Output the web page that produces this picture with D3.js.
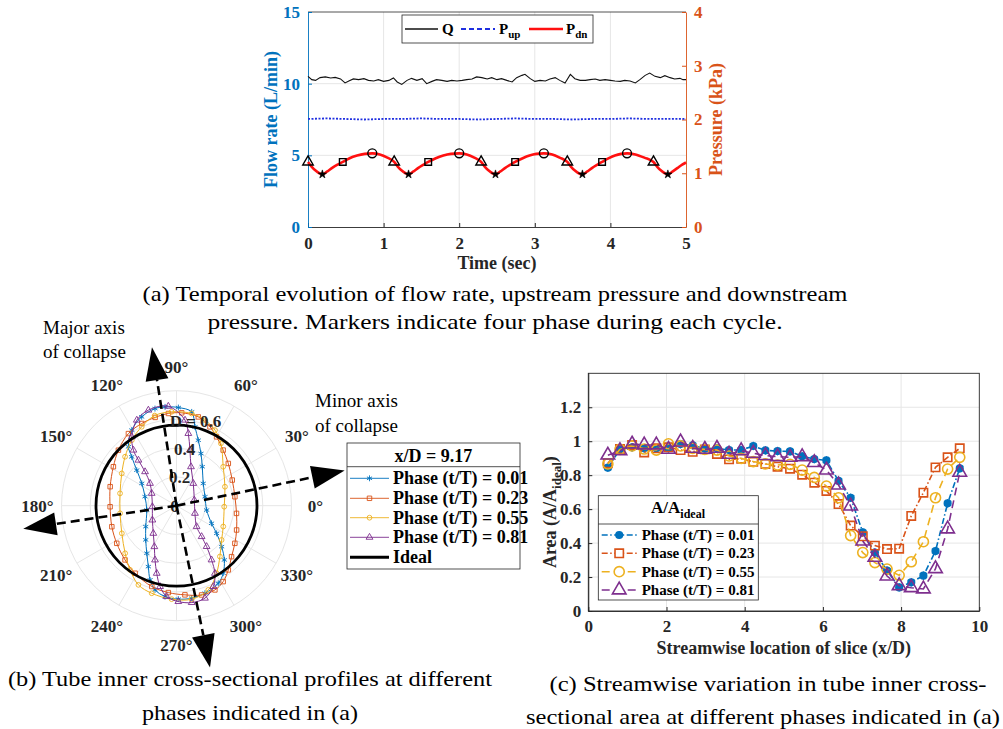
<!DOCTYPE html>
<html>
<head>
<meta charset="utf-8">
<script src="https://cdn.jsdelivr.net/npm/d3@7"></script>
<style>
  body { margin: 0; background: #fff; }
  svg { display: block; }
  svg text { font-family: "Liberation Serif", "Times New Roman", Times, serif !important; }
</style>
</head>
<body>
<svg id="fig" width="1003" height="729"></svg>
<script>
// ---------- (a) time series ----------
const timeTicks = [0, 1, 2, 3, 4, 5];
const flowTicks = [0, 5, 10, 15];
const pressTicks = [0, 1, 2, 3, 4];

const qTime = [0.00,0.05,0.10,0.16,0.23,0.30,0.36,0.43,0.49,0.54,0.60,0.67,0.74,0.80,0.87,0.93,1.00,1.07,1.13,1.18,1.24,1.31,1.37,1.44,1.51,1.57,1.64,1.70,1.77,1.84,1.90,1.97,2.04,2.10,2.17,2.23,2.30,2.37,2.43,2.50,2.56,2.63,2.70,2.76,2.83,2.87,2.94,3.00,3.07,3.14,3.20,3.27,3.33,3.40,3.47,3.53,3.60,3.67,3.73,3.80,3.86,3.93,4.00,4.06,4.13,4.19,4.26,4.33,4.39,4.46,4.52,4.59,4.66,4.72,4.79,4.85,4.92,4.96,5.00];
const qFlow = [10.51,10.28,10.23,10.42,10.47,10.40,10.44,10.33,10.05,10.19,10.33,10.28,10.35,10.23,10.19,10.28,10.16,10.23,10.40,10.12,9.95,10.23,10.37,10.23,10.35,10.00,10.16,10.28,10.23,10.16,10.23,10.19,10.23,10.28,10.33,10.47,10.42,10.33,10.42,10.28,10.35,10.23,10.12,10.42,10.58,10.65,10.35,10.16,10.23,10.19,10.33,10.42,10.23,10.05,10.65,10.35,10.23,10.23,10.28,10.33,10.23,10.28,10.23,10.19,10.16,10.23,10.19,10.05,10.28,10.58,10.74,10.51,10.42,10.56,10.42,10.33,10.37,10.28,10.28];

const upTime = [0,0.25,0.5,0.75,1,1.25,1.5,1.75,2,2.25,2.5,2.75,3,3.25,3.5,3.75,4,4.25,4.5,4.75,5];
const upPress = [2.01,2.02,2.01,2.0,2.01,2.01,2.02,2.01,2.01,2.0,2.01,2.02,2.01,2.01,2.0,2.01,2.01,2.02,2.01,2.01,2.01];

const dnTime = [0.00,0.05,0.10,0.15,0.19,0.25,0.32,0.39,0.46,0.55,0.65,0.75,0.85,0.95,1.05,
  1.14,1.19,1.24,1.29,1.33,1.39,1.46,1.53,1.59,1.69,1.79,1.89,2.00,2.10,2.20,
  2.29,2.34,2.39,2.44,2.48,2.54,2.61,2.68,2.74,2.84,2.93,3.02,3.12,3.23,3.33,
  3.43,3.48,3.53,3.58,3.63,3.69,3.76,3.83,3.89,3.98,4.06,4.14,4.22,4.33,4.45,
  4.57,4.62,4.67,4.72,4.76,4.82,4.89,4.95,5.00];
const dnPress = [1.21,1.12,1.05,1.00,0.98,1.03,1.10,1.16,1.21,1.28,1.33,1.36,1.37,1.35,1.29,
  1.21,1.12,1.05,1.00,0.98,1.03,1.10,1.16,1.21,1.28,1.33,1.36,1.37,1.35,1.29,
  1.21,1.12,1.05,1.00,0.98,1.03,1.10,1.16,1.21,1.28,1.33,1.36,1.37,1.35,1.29,
  1.21,1.12,1.05,1.00,0.98,1.03,1.10,1.16,1.21,1.28,1.33,1.36,1.37,1.35,1.29,
  1.21,1.12,1.05,1.00,0.98,1.03,1.10,1.16,1.20];

const phaseTriangle = [0, 1.14, 2.29, 3.43, 4.57];
const phaseStar = [0.19, 1.33, 2.48, 3.63, 4.76];
const phaseSquare = [0.46, 1.59, 2.74, 3.89];
const phaseCircle = [0.85, 2.00, 3.12, 4.22];
const phaseTriangleP = 1.21, phaseStarP = 0.98, phaseSquareP = 1.21, phaseCircleP = 1.37;

// ---------- (b) polar profiles, [angle deg, radius] ----------
const ringTicks = [0.2, 0.4, 0.6, 0.8];
const ringLabels = ["0", "0.2", "0.4", "D = 0.6"];
const angleTicks = [0, 30, 60, 90, 120, 150, 180, 210, 240, 270, 300, 330];
const idealRadius = 0.56;

const profBlue = [[17.5,0.208],[39.8,0.242],[56.5,0.325],[64.9,0.401],[71.6,0.48],[76.8,0.563],[80.8,0.661],[88.9,0.683],[96.6,0.692],[102.5,0.692],[111.4,0.664],[120.6,0.611],[129.2,0.529],[132.5,0.461],[138.2,0.371],[147.3,0.287],[164,0.228],[188.3,0.209],[214.3,0.259],[228,0.32],[238,0.39],[245.2,0.467],[250.4,0.548],[255.7,0.604],[262.8,0.637],[271.1,0.65],[279.3,0.652],[288,0.64],[298.3,0.613],[304.7,0.571],[311.4,0.503],[317.8,0.424],[325.4,0.339],[333.3,0.273],[351.8,0.212]];
const profOrange = [[8.7,0.411],[24.7,0.427],[39.2,0.465],[50,0.505],[59.8,0.554],[67,0.596],[76.2,0.636],[86.8,0.647],[95,0.644],[103.6,0.632],[112.9,0.621],[123.7,0.603],[136.3,0.559],[148.3,0.516],[164,0.48],[180.9,0.462],[198,0.473],[212.2,0.491],[226.5,0.52],[238.5,0.551],[253,0.588],[264.6,0.607],[275.4,0.623],[285.7,0.645],[294.5,0.644],[301.6,0.62],[308.9,0.574],[317.2,0.522],[327.2,0.483],[338,0.451],[352.7,0.421]];
const profYellow = [[21.4,0.362],[39.8,0.423],[54.5,0.532],[63,0.59],[71.6,0.627],[80.7,0.65],[93,0.654],[103.6,0.645],[113.8,0.6],[124.3,0.552],[136.4,0.494],[149.5,0.442],[167.7,0.402],[187.7,0.396],[206.8,0.426],[222.8,0.487],[234.1,0.551],[244.3,0.611],[254.2,0.633],[267,0.651],[279.2,0.659],[290.7,0.626],[300.7,0.546],[310.5,0.465],[322.8,0.394],[336,0.356],[358.8,0.332]];
const profPurple = [[17.6,0.13],[53,0.194],[69.6,0.289],[76.4,0.398],[80.7,0.509],[84.3,0.598],[94.7,0.694],[106.4,0.693],[114.9,0.656],[123,0.571],[127.8,0.489],[129.9,0.413],[132.8,0.322],[139.9,0.241],[153.6,0.193],[182.4,0.168],[210.7,0.195],[230,0.251],[241.6,0.324],[248.4,0.406],[253.7,0.49],[258.5,0.574],[263.8,0.636],[271.1,0.667],[278.9,0.682],[287.1,0.673],[294.5,0.618],[299.6,0.541],[302.9,0.449],[306.4,0.353],[309.1,0.277],[313.8,0.202],[337.5,0.139]];

// collapse axes arrows: [angle deg, tip radius]
const collapseArrows = [[98.8, 1.115], [281.7, 1.15], [188.6, 1.078], [11.8, 1.195]];
const phaseNames = ["Phase (t/T) = 0.01", "Phase (t/T) = 0.23", "Phase (t/T) = 0.55", "Phase (t/T) = 0.81"];

// ---------- (c) area along the tube ----------
const xTicksC = [0, 2, 4, 6, 8, 10];
const yTicksC = [0, 0.2, 0.4, 0.6, 0.8, 1, 1.2];
const sliceX = [0.5,0.81,1.12,1.43,1.74,2.05,2.36,2.67,2.98,3.29,3.6,3.91,4.22,4.53,4.84,5.16,5.47,5.78,6.09,6.4,6.71,7.02,7.33,7.64,7.95,8.26,8.57,8.88,9.19,9.5];
const areaBlue = [0.844,0.952,0.964,0.958,0.958,0.958,0.983,0.976,0.956,0.958,0.948,0.948,0.972,0.946,0.942,0.94,0.911,0.895,0.887,0.766,0.667,0.463,0.344,0.238,0.139,0.169,0.208,0.353,0.634,0.84];
const areaOrange = [0.87,0.954,0.978,0.934,0.958,0.964,0.948,0.938,0.952,0.925,0.893,0.897,0.879,0.866,0.85,0.838,0.803,0.756,0.707,0.63,0.503,0.44,0.385,0.365,0.367,0.56,0.697,0.846,0.905,0.958];
const areaYellow = [0.866,0.952,0.972,0.954,0.948,0.985,0.972,0.958,0.952,0.948,0.913,0.899,0.88,0.866,0.86,0.864,0.83,0.787,0.736,0.667,0.444,0.344,0.285,0.247,0.21,0.29,0.408,0.667,0.836,0.905];
const areaPurple = [0.918,0.944,0.983,0.978,0.978,0.952,0.995,0.958,0.952,0.958,0.923,0.944,0.929,0.915,0.909,0.905,0.909,0.874,0.83,0.742,0.618,0.412,0.316,0.206,0.149,0.137,0.13,0.249,0.483,0.817];

// ---------- drawing ----------
const serif = '"Liberation Serif", "Times New Roman", Times, serif';
const ink = "#262626";
const grid = "#e6e6e6";
const cBlue = "#0072BD", cOrange = "#D95319", cYellow = "#EDB120", cPurple = "#7E2F8E";

const svg = d3.select("#fig").attr("font-family", serif);

function styleAxis(g, col) {
  g.attr("font-size", 17).attr("font-family", serif).attr("font-weight", "bold").style("color", col);
  g.select(".domain").attr("stroke-width", 0.9);
}

// ===== (a) =====
const A = { left: 308, right: 686, top: 12, bottom: 227 };
const xA = d3.scaleLinear().domain([0, 5]).range([A.left, A.right]);
const yQ = d3.scaleLinear().domain([0, 15]).range([A.bottom, A.top]);
const yP = d3.scaleLinear().domain([0, 4]).range([A.bottom, A.top]);
const gA = svg.append("g");

gA.selectAll(".vg").data(timeTicks.slice(1, -1)).join("line")
  .attr("x1", d => xA(d)).attr("x2", d => xA(d)).attr("y1", A.bottom).attr("y2", A.top)
  .attr("stroke", grid);
gA.selectAll(".hg").data(flowTicks.slice(1, -1)).join("line")
  .attr("x1", A.left).attr("x2", A.right).attr("y1", d => yQ(d)).attr("y2", d => yQ(d))
  .attr("stroke", grid);
gA.append("line").attr("x1", A.left).attr("x2", A.right).attr("y1", A.top).attr("y2", A.top)
  .attr("stroke", ink).attr("stroke-width", 0.8);

const axAB = gA.append("g").attr("transform", `translate(0,${A.bottom})`)
  .call(d3.axisBottom(xA).tickValues(timeTicks).tickSize(-4).tickSizeOuter(0).tickPadding(10).tickFormat(d3.format("d")));
styleAxis(axAB, ink);
const axAL = gA.append("g").attr("transform", `translate(${A.left},0)`)
  .call(d3.axisLeft(yQ).tickValues(flowTicks).tickSize(-4).tickSizeOuter(0).tickPadding(8).tickFormat(d3.format("d")));
styleAxis(axAL, cBlue);
const axAR = gA.append("g").attr("transform", `translate(${A.right},0)`)
  .call(d3.axisRight(yP).tickValues(pressTicks).tickSize(-4).tickSizeOuter(0).tickPadding(8).tickFormat(d3.format("d")));
styleAxis(axAR, cOrange);

const qData = qTime.map((t, i) => [t, qFlow[i]]);
gA.append("path").datum(qData)
  .attr("d", d3.line().x(d => xA(d[0])).y(d => yQ(d[1])))
  .attr("fill", "none").attr("stroke", "#111").attr("stroke-width", 1.1);

const upData = upTime.map((t, i) => [t, upPress[i]]);
gA.append("path").datum(upData)
  .attr("d", d3.line().x(d => xA(d[0])).y(d => yP(d[1])))
  .attr("fill", "none").attr("stroke", "#1f2fe0").attr("stroke-width", 1.8).attr("stroke-dasharray", "2,1.5");

const dnData = dnTime.map((t, i) => [t, dnPress[i]]);
gA.append("path").datum(dnData)
  .attr("d", d3.line().x(d => xA(d[0])).y(d => yP(d[1])).curve(d3.curveMonotoneX))
  .attr("fill", "none").attr("stroke", "#ff1010").attr("stroke-width", 2.6);

function phaseMarks(times, p, type, size, filled) {
  gA.append("g").selectAll("path").data(times).join("path")
    .attr("transform", t => `translate(${xA(t)},${yP(p)})`)
    .attr("d", d3.symbol(type, size))
    .attr("fill", filled ? "#000" : "none").attr("stroke", "#000").attr("stroke-width", filled ? 0.6 : 1.4);
}
phaseMarks(phaseTriangle, phaseTriangleP, d3.symbolTriangle, 48, false);
phaseMarks(phaseStar, phaseStarP, d3.symbolStar, 22, true);
phaseMarks(phaseSquare, phaseSquareP, d3.symbolSquare, 44, false);
phaseMarks(phaseCircle, phaseCircleP, d3.symbolCircle, 62, false);

// legend (a)
const lgA = gA.append("g").attr("font-weight", "bold").attr("font-size", 15);
lgA.append("rect").attr("x", 402).attr("y", 15).attr("width", 191).attr("height", 28)
  .attr("fill", "#fff").attr("stroke", ink).attr("stroke-width", 0.8);
lgA.append("line").attr("x1", 405).attr("x2", 438).attr("y1", 29).attr("y2", 29).attr("stroke", "#111").attr("stroke-width", 1.3);
lgA.append("text").attr("x", 442).attr("y", 34).text("Q");
lgA.append("line").attr("x1", 461).attr("x2", 495).attr("y1", 29).attr("y2", 29).attr("stroke", "#1f2fe0").attr("stroke-width", 1.8).attr("stroke-dasharray", "5,3");
const tUp = lgA.append("text").attr("x", 499).attr("y", 34).text("P");
tUp.append("tspan").attr("font-size", 11).attr("dy", 4).text("up");
lgA.append("line").attr("x1", 529).attr("x2", 563).attr("y1", 29).attr("y2", 29).attr("stroke", "#ff1010").attr("stroke-width", 2.4);
const tDn = lgA.append("text").attr("x", 566).attr("y", 34).text("P");
tDn.append("tspan").attr("font-size", 11).attr("dy", 4).text("dn");

gA.append("text").attr("x", (A.left + A.right) / 2).attr("y", 269).attr("text-anchor", "middle")
  .attr("font-size", 18).attr("font-weight", "bold").attr("fill", ink).text("Time (sec)");
gA.append("text").attr("transform", `translate(277,${(A.top + A.bottom) / 2}) rotate(-90)`)
  .attr("text-anchor", "middle").attr("font-size", 18).attr("font-weight", "bold").attr("fill", cBlue)
  .text("Flow rate (L/min)");
gA.append("text").attr("transform", `translate(722,${(A.top + A.bottom) / 2}) rotate(-90)`)
  .attr("text-anchor", "middle").attr("font-size", 18).attr("font-weight", "bold").attr("fill", cOrange)
  .text("Pressure (kPa)");

// ===== (b) polar =====
const P = { cx: 176.5, cy: 505.7 };
const rP = d3.scaleLinear().domain([0, 0.8]).range([0, 115]);
const gP = svg.append("g").attr("transform", `translate(${P.cx},${P.cy})`);
const rad = a => a * Math.PI / 180;
const px = (a, r) => rP(r) * Math.cos(rad(a));
const py = (a, r) => -rP(r) * Math.sin(rad(a));

gP.selectAll(".ring").data(ringTicks).join("circle")
  .attr("r", d => rP(d)).attr("fill", "none").attr("stroke", grid).attr("stroke-width", 1);
gP.selectAll(".spoke").data(angleTicks).join("line")
  .attr("x1", 0).attr("y1", 0).attr("x2", d => px(d, 0.8)).attr("y2", d => py(d, 0.8))
  .attr("stroke", grid).attr("stroke-width", 1);

const radial = d3.lineRadial().angle(d => rad(90 - d[0])).radius(d => rP(d[1]))
  .curve(d3.curveCatmullRomClosed.alpha(0.5));
const profiles = [
  { data: profBlue, col: cBlue, sym: d3.symbolAsterisk, size: 24 },
  { data: profOrange, col: cOrange, sym: d3.symbolSquare, size: 20 },
  { data: profYellow, col: cYellow, sym: d3.symbolCircle, size: 18 },
  { data: profPurple, col: cPurple, sym: d3.symbolTriangle, size: 20 }
];
profiles.forEach(s => {
  gP.append("path").datum(s.data).attr("d", radial)
    .attr("fill", "none").attr("stroke", s.col).attr("stroke-width", 1);
  gP.append("g").selectAll("path").data(s.data).join("path")
    .attr("transform", d => `translate(${px(d[0], d[1])},${py(d[0], d[1])})`)
    .attr("d", d3.symbol(s.sym, s.size))
    .attr("fill", "none").attr("stroke", s.col).attr("stroke-width", 0.9);
});
gP.append("circle").attr("r", rP(idealRadius)).attr("fill", "none").attr("stroke", "#000").attr("stroke-width", 2.8);

// ring labels along 80 degrees
gP.selectAll(".rl").data(ringLabels).join("text")
  .attr("x", (d, i) => px(80, i * 0.2) - 2 + (i === 3 ? 6 : 0))
  .attr("y", (d, i) => py(80, i * 0.2) + 6)
  .attr("text-anchor", "middle").attr("font-size", 17).attr("font-weight", "bold").attr("fill", ink)
  .text(d => d);
gP.selectAll(".al").data(angleTicks).join("text")
  .attr("x", d => (rP(0.8) + 24) * Math.cos(rad(d)))
  .attr("y", d => -(rP(0.8) + 24) * Math.sin(rad(d)) + 6)
  .attr("text-anchor", "middle").attr("font-size", 17).attr("font-weight", "bold").attr("fill", ink)
  .text(d => d + "°");

// collapse axes arrows
const headLen = 33, headHalf = 11.5;
collapseArrows.forEach(([a, r]) => {
  const tipX = px(a, r), tipY = py(a, r);
  const len = Math.hypot(tipX, tipY);
  const ux = tipX / len, uy = tipY / len;
  const bx = tipX - ux * headLen, by = tipY - uy * headLen;
  gP.append("line").attr("x1", 0).attr("y1", 0).attr("x2", bx).attr("y2", by)
    .attr("stroke", "#000").attr("stroke-width", 2.6).attr("stroke-dasharray", "9,5");
  gP.append("path")
    .attr("d", `M${tipX},${tipY}L${bx - uy * headHalf},${by + ux * headHalf}L${bx + uy * headHalf},${by - ux * headHalf}Z`)
    .attr("fill", "#000");
});

svg.append("text").attr("x", 43).attr("y", 334).attr("font-size", 19).text("Major axis");
svg.append("text").attr("x", 43).attr("y", 358).attr("font-size", 19).text("of collapse");
svg.append("text").attr("x", 315).attr("y", 407).attr("font-size", 19).text("Minor axis");
svg.append("text").attr("x", 315).attr("y", 432).attr("font-size", 19).text("of collapse");

// legend (b)
const lgB = svg.append("g").attr("font-weight", "bold").attr("font-size", 18);
lgB.append("rect").attr("x", 347).attr("y", 443).attr("width", 173).attr("height", 126)
  .attr("fill", "#fff").attr("stroke", ink).attr("stroke-width", 0.8);
lgB.append("line").attr("x1", 347).attr("x2", 520).attr("y1", 466.7).attr("y2", 466.7).attr("stroke", ink).attr("stroke-width", 0.8);
lgB.append("text").attr("x", 433.5).attr("y", 462).attr("text-anchor", "middle").text("x/D = 9.17");
const lgBy = [478.3, 498.3, 517.7, 537.3];
profiles.forEach((s, i) => {
  lgB.append("line").attr("x1", 350).attr("x2", 389).attr("y1", lgBy[i]).attr("y2", lgBy[i]).attr("stroke", s.col).attr("stroke-width", 0.9);
  lgB.append("path").attr("transform", `translate(369.5,${lgBy[i]})`).attr("d", d3.symbol(s.sym, s.size))
    .attr("fill", "none").attr("stroke", s.col).attr("stroke-width", 0.9);
  lgB.append("text").attr("x", 393).attr("y", lgBy[i] + 6).text(phaseNames[i]);
});
lgB.append("line").attr("x1", 350).attr("x2", 389).attr("y1", 557.3).attr("y2", 557.3).attr("stroke", "#000").attr("stroke-width", 3);
lgB.append("text").attr("x", 393).attr("y", 563.3).text("Ideal");

// ===== (c) =====
const Cc = { left: 588.3, right: 979.3, top: 373.3, bottom: 611 };
const xC = d3.scaleLinear().domain([0, 10]).range([Cc.left, Cc.right]);
const yC = d3.scaleLinear().domain([0, 1.4]).range([Cc.bottom, Cc.top]);
const gC = svg.append("g");
gC.selectAll(".vg").data(xTicksC.slice(1, -1)).join("line")
  .attr("x1", d => xC(d)).attr("x2", d => xC(d)).attr("y1", Cc.bottom).attr("y2", Cc.top).attr("stroke", grid);
gC.selectAll(".hg").data(yTicksC.slice(1)).join("line")
  .attr("x1", Cc.left).attr("x2", Cc.right).attr("y1", d => yC(d)).attr("y2", d => yC(d)).attr("stroke", grid);
gC.append("rect").attr("x", Cc.left).attr("y", Cc.top).attr("width", Cc.right - Cc.left).attr("height", Cc.bottom - Cc.top)
  .attr("fill", "none").attr("stroke", ink).attr("stroke-width", 0.9);
const axCB = gC.append("g").attr("transform", `translate(0,${Cc.bottom})`)
  .call(d3.axisBottom(xC).tickValues(xTicksC).tickSize(-4).tickSizeOuter(0).tickPadding(9));
styleAxis(axCB, ink);
const axCL = gC.append("g").attr("transform", `translate(${Cc.left},0)`)
  .call(d3.axisLeft(yC).tickValues(yTicksC).tickSize(-4).tickSizeOuter(0).tickPadding(7).tickFormat(d => String(+d.toFixed(1))));
styleAxis(axCL, ink);

const areaSeries = [
  { vals: areaBlue, col: cBlue, dash: "6,2.5,1.5,2.5", sym: d3.symbolCircle, size: 34, fill: true },
  { vals: areaOrange, col: cOrange, dash: "6,2.5,1.5,2.5", sym: d3.symbolSquare, size: 70, fill: false },
  { vals: areaYellow, col: cYellow, dash: "8,5", sym: d3.symbolCircle, size: 80, fill: false },
  { vals: areaPurple, col: cPurple, dash: "8,5", sym: d3.symbolTriangle, size: 80, fill: false }
];
const lineC = d3.line().x(d => xC(d[0])).y(d => yC(d[1]));
areaSeries.forEach(s => {
  const pts = sliceX.map((x, i) => [x, s.vals[i]]);
  gC.append("path").datum(pts).attr("d", lineC)
    .attr("fill", "none").attr("stroke", s.col).attr("stroke-width", 1.6).attr("stroke-dasharray", s.dash);
  gC.append("g").selectAll("path").data(pts).join("path")
    .attr("transform", d => `translate(${xC(d[0])},${yC(d[1])})`)
    .attr("d", d3.symbol(s.sym, s.size))
    .attr("fill", s.fill ? s.col : "none").attr("stroke", s.col).attr("stroke-width", 1.6);
  if (s.fill) {
    gC.append("g").selectAll("path").data(pts).join("path")
      .attr("transform", d => `translate(${xC(d[0])},${yC(d[1])})`)
      .attr("d", d3.symbol(d3.symbolAsterisk, 50))
      .attr("fill", "none").attr("stroke", s.col).attr("stroke-width", 1);
  }
});

// legend (c)
const lgC = svg.append("g").attr("font-weight", "bold").attr("font-size", 15);
lgC.append("rect").attr("x", 598.3).attr("y", 495.7).attr("width", 160).attr("height", 104.3)
  .attr("fill", "#fff").attr("stroke", ink).attr("stroke-width", 0.8);
lgC.append("line").attr("x1", 598.3).attr("x2", 758.3).attr("y1", 524).attr("y2", 524).attr("stroke", ink).attr("stroke-width", 0.8);
const tTitle = lgC.append("text").attr("x", 678).attr("y", 513).attr("text-anchor", "middle").attr("font-size", 17);
tTitle.append("tspan").text("A/A");
tTitle.append("tspan").attr("font-size", 12).attr("dy", 5).text("ideal");
const lgCy = [535, 553.3, 571.7, 590];
areaSeries.forEach((s, i) => {
  lgC.append("line").attr("x1", 601.7).attr("x2", 636.7).attr("y1", lgCy[i]).attr("y2", lgCy[i])
    .attr("stroke", s.col).attr("stroke-width", 1.6).attr("stroke-dasharray", s.dash);
  lgC.append("path").attr("transform", `translate(619.2,${lgCy[i]})`).attr("d", d3.symbol(s.sym, s.size))
    .attr("fill", s.fill ? s.col : "#fff").attr("stroke", s.col).attr("stroke-width", 1.6);
  lgC.append("text").attr("x", 641.7).attr("y", lgCy[i] + 5).text(phaseNames[i]);
});

gC.append("text").attr("x", (Cc.left + Cc.right) / 2).attr("y", 654).attr("text-anchor", "middle")
  .attr("font-size", 18).attr("font-weight", "bold").attr("fill", ink).text("Streamwise location of slice (x/D)");
const yLab = gC.append("text").attr("transform", `translate(556,${(Cc.top + Cc.bottom) / 2 + 20}) rotate(-90)`)
  .attr("text-anchor", "middle").attr("font-size", 18).attr("font-weight", "bold").attr("fill", ink);
yLab.append("tspan").text("Area (A/A");
yLab.append("tspan").attr("font-size", 13).attr("dy", 5).text("ideal");
yLab.append("tspan").attr("dy", -5).text(")");

// ===== captions =====
const caps = [
  { t: "(a) Temporal evolution of flow rate, upstream pressure and downstream", x: 495, y: 301, w: 705 },
  { t: "pressure. Markers indicate four phase during each cycle.", x: 495, y: 329, w: 575 },
  { t: "(b) Tube inner cross-sectional profiles at different", x: 250, y: 686, w: 484 },
  { t: "phases indicated in (a)", x: 250, y: 720, w: 216 },
  { t: "(c) Streamwise variation in tube inner cross-", x: 768, y: 691, w: 437 },
  { t: "sectional area at different phases indicated in (a)", x: 763, y: 724, w: 474 }
];
svg.selectAll(".cap").data(caps).join("text")
  .attr("x", d => d.x).attr("y", d => d.y).attr("text-anchor", "middle")
  .attr("font-size", 22).attr("fill", "#000")
  .attr("textLength", d => d.w).attr("lengthAdjust", "spacingAndGlyphs")
  .text(d => d.t);
</script>
</body>
</html>
